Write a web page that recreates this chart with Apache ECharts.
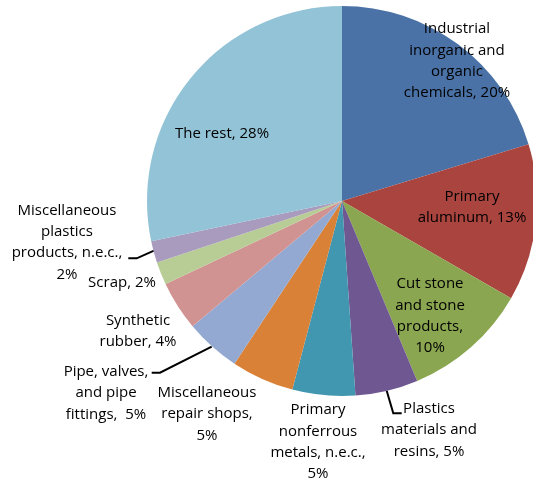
<!DOCTYPE html>
<html>
<head>
<meta charset="utf-8">
<script src="https://cdn.jsdelivr.net/npm/echarts@6/dist/echarts.min.js"></script>
<style>html,body{margin:0;padding:0;background:#fff}#c{width:533px;height:484px}</style>
</head>
<body>
<div id="c"></div>
<script>
var categories = [
  'Industrial inorganic and organic chemicals',
  'Primary aluminum',
  'Cut stone and stone products',
  'Plastics materials and resins',
  'Primary nonferrous metals, n.e.c.',
  'Miscellaneous repair shops',
  'Pipe, valves, and pipe fittings',
  'Synthetic rubber',
  'Scrap',
  'Miscellaneous plastics products, n.e.c.',
  'The rest'
];
var values = [20.3, 13.0, 10.4, 5.2, 5.2, 5.2, 4.6, 4.1, 1.9, 1.8, 28.3];
var labelTemplates = [
  'Industrial\ninorganic and\norganic\nchemicals, {p}%',
  'Primary\naluminum, {p}%',
  'Cut stone\nand stone\nproducts,\n{p}%',
  'Plastics\nmaterials and\nresins, {p}%',
  'Primary\nnonferrous\nmetals, n.e.c.,\n{p}%',
  'Miscellaneous\nrepair shops,\n{p}%',
  'Pipe, valves,\nand pipe\nfittings,  {p}%',
  'Synthetic\nrubber, {p}%',
  'Scrap, {p}%',
  'Miscellaneous\nplastics\nproducts, n.e.c.,\n{p}%',
  'The rest, {p}%'
];
var colors = ['#4A72A6','#A9443F','#8BA650','#6F5891','#4197AF','#DA8138','#94A9D2','#D19392','#B8CD96','#A99BBD','#93C3D6'];

// layout (label centres and leader lines), kept separate from data
var labelPos = [[457,61],[472,207],[430,316],[429,430],[318,442],[207,414],[106,393],[138,331],[122,283],[67,242.5],[222,134]];
var leaders = {
  3: [[386.7,390.7],[393.3,413.3],[401.7,413.3]],
  6: [[211.7,346.7],[160,372.7],[151.7,372.7]],
  9: [[154,250.7],[136.7,258.3],[128.3,258.3]]
};

var total = values.reduce(function(a,b){return a+b;},0);
var data = categories.map(function(n,i){
  return {
    name: n, value: values[i],
    itemStyle: {color: colors[i]},
    labelLine: {show: !!leaders[i], lineStyle:{color:'#000', width:2}},
    label: {formatter: labelTemplates[i].replace('{p}', Math.round(values[i]/total*100))}
  };
});

var chart = echarts.init(document.getElementById('c'), null, {renderer:'canvas'});
chart.setOption({
  animation: false,
  series: [{
    type: 'pie',
    center: [342, 201],
    radius: [0, 195],
    startAngle: 90,
    clockwise: true,
    avoidLabelOverlap: false,
    data: data,
    label: {
      show: true,
      position: 'outside',
      color: '#000',
      fontFamily: 'Open Sans',
      fontSize: 15,
      lineHeight: 21.3,
      align: 'center'
    },
    labelLine: {show: false},
    labelLayout: function(p){
      var i = p.dataIndex;
      var r = {x: labelPos[i][0], y: labelPos[i][1], align: 'center', verticalAlign: 'middle'};
      if (leaders[i]) r.labelLinePoints = leaders[i];
      return r;
    }
  }]
});
</script>
</body>
</html>
